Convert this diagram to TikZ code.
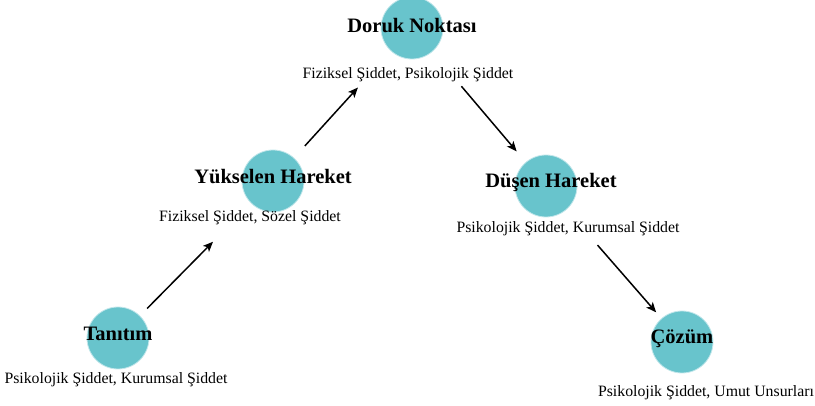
\documentclass[tikz,border=0pt]{standalone}
\usepackage{fontspec}
\setmainfont{Liberation Serif}
\usepackage{tikz}
\usetikzlibrary{arrows.meta,positioning}
\definecolor{tealdot}{RGB}{104,196,204}

\begin{document}
\begin{tikzpicture}[->,>={Stealth[length=10pt,width=8.5pt,inset=2.5pt]},x=1pt,y=-1pt,
		dot/.style={circle,fill=tealdot,draw=tealdot!40,line width=0.8pt,minimum size=62pt,inner sep=0pt},
		title/.style={font=\fontsize{20.5}{23}\selectfont\bfseries,inner sep=0pt},
		sub/.style={font=\fontsize{15.8}{18}\selectfont,inner sep=0pt},
		every edge/.style={draw,line width=1.5pt}]
		\useasboundingbox (0,0) rectangle (815,406);

		\node[dot] (tanitim) at (118,338) {};
		\node[dot] (yukselen) at (273,181) {};
		\node[dot] (doruk) at (412,28) {};
		\node[dot] (dusen) at (546,186) {};
		\node[dot] (cozum) at (682,342) {};

		\node[title] (tanitimT) at ([yshift=4pt]tanitim) {Tanıtım};
		\node[title] (yukselenT) at ([yshift=4pt]yukselen) {Yükselen Hareket};
		\node[title] (dorukT) at ([yshift=2pt]doruk) {Doruk Noktası};
		\node[title] (dusenT) at ([yshift=3pt,xshift=5pt]dusen) {Düşen Hareket};
		\node[title] (cozumT) at ([yshift=3pt]cozum) {Çözüm};

		\node[sub] (tanitimS) at (116,380) {Psikolojik Şiddet, Kurumsal Şiddet};
		\node[sub] (yukselenS) at (250,218) {Fiziksel Şiddet, Sözel Şiddet};
		\node[sub] (dorukS) at (408,75) {Fiziksel Şiddet, Psikolojik Şiddet};
		\node[sub] (dusenS) at (568,229) {Psikolojik Şiddet, Kurumsal Şiddet};
		\node[sub] (cozumS) at (706,393) {Psikolojik Şiddet, Umut Unsurları};

		\path
		(tanitim) edge[shorten <=10pt,shorten >=54pt] (yukselen)
		(yukselen) edge[shorten <=16pt,shorten >=49pt] (doruk)
		(doruk) edge[shorten <=45pt,shorten >=14pt] (dusen)
		(dusen) edge[shorten <=47pt,shorten >=8pt] (cozum);
\end{tikzpicture}
\end{document}
